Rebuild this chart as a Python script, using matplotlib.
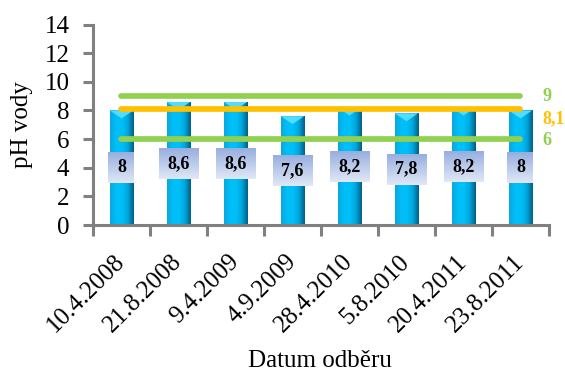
import numpy as np
import matplotlib.pyplot as plt
from matplotlib.colors import LinearSegmentedColormap
from matplotlib.patches import Polygon

plt.rcParams['font.family'] = ['Liberation Serif', 'DejaVu Serif']

# odběry a naměřené pH
datumy = ['10.4.2008', '21.8.2008', '9.4.2009', '4.9.2009',
          '28.4.2010', '5.8.2010', '20.4.2011', '23.8.2011']
ph = [8.0, 8.6, 8.6, 7.6, 8.2, 7.8, 8.2, 8.0]
ph_popisky = ['8', '8,6', '8,6', '7,6', '8,2', '7,8', '8,2', '8']

# limitní hodnoty
limity = [9.0, 8.1, 6.0]
limity_popisky = ['9', '8,1', '6']
limity_barvy = ['#92D050', '#FFC000', '#92D050']

fig = plt.figure(figsize=(5.65, 3.72), dpi=100)
ax = fig.add_axes([0.1646, 0.395, 0.807, 0.539])
ax.set_xlim(-0.5, len(datumy) - 0.5)
ax.set_ylim(0, 14)

x = np.arange(len(datumy))
sirka = 0.41

# válcové sloupce - vodorovný přechod barvy oříznutý tvarem sloupce
valec = LinearSegmentedColormap.from_list(
    'valec', ['#0AA8DE', '#00BEF7', '#00C0F9', '#00A6DC', '#005F86'])
prechod = np.linspace(0, 1, 64).reshape(1, -1)
sloupce = ax.bar(x, ph, width=sirka, color='none', edgecolor='none', zorder=2)
for r, xi, v in zip(sloupce, x, ph):
    im = ax.imshow(prechod, cmap=valec, aspect='auto', zorder=2,
                   extent=(xi - sirka / 2, xi + sirka / 2, 0, v))
    im.set_clip_path(r)
    # světlý trojúhelník na vršku válce
    ax.add_patch(Polygon([(xi - sirka / 2, v), (xi + sirka / 2, v), (xi, v - 0.55)],
                         closed=True, facecolor='#52DDFF', edgecolor='none', zorder=2.5))

# vodorovné limity přes celý rozsah odběrů
popisky_y = [9.0, 7.4, 5.93]
for hodnota, t, c, py in zip(limity, limity_popisky, limity_barvy, popisky_y):
    ax.plot([x[0], x[-1]], [hodnota, hodnota], color=c, linewidth=4.1,
            solid_capstyle='round', zorder=3)
    ax.text(x[-1] + 0.38, py, t, color=c, fontsize=13, fontweight='bold',
            ha='left', va='center', clip_on=False)

# popisky hodnot uprostřed sloupců
texty = []
for xi, v, t in zip(x, ph, ph_popisky):
    texty.append(ax.text(xi, v / 2, t, ha='center', va='center', fontsize=13,
                         fontweight='bold', zorder=5))

ax.set_yticks(np.arange(0, 15, 2))
ax.set_xticks(x)
ax.set_xticklabels(datumy, rotation=45, ha='right', va='center',
                   rotation_mode='anchor', fontsize=18)
ax.tick_params(axis='x', length=0, pad=24)
ax.set_xticks(np.arange(-0.5, len(datumy)), minor=True)
ax.tick_params(axis='x', which='minor', length=8, width=2.2, color='#808080')
ax.tick_params(axis='y', labelsize=18, length=7, width=2.2, color='#808080', pad=10)

for s in ['top', 'right']:
    ax.spines[s].set_visible(False)
for s in ['left', 'bottom']:
    ax.spines[s].set_color('#808080')
    ax.spines[s].set_linewidth(2.2)
    ax.spines[s].set_zorder(6)

ax.set_ylabel('pH vody', fontsize=18, labelpad=8)
fig.text(0.567, 0.03, 'Datum odběru', ha='center', va='center', fontsize=18)

# rámečky popisků se svislým přechodem, šířka podle textu, pevná výška
fig.canvas.draw()
ramecek = LinearSegmentedColormap.from_list('ramecek', ['#97AEDF', '#E0E8F6'])
svisle = np.linspace(0, 1, 64).reshape(-1, 1)
inv = ax.transData.inverted()
for t in texty:
    bb = t.get_window_extent()
    cx, cy = ax.transData.transform(t.get_position())
    pulw = bb.width / 2 + 8.5
    pulh = 15.5
    (x0, y0), (x1, y1) = inv.transform([(cx - pulw, cy - pulh), (cx + pulw, cy + pulh)])
    ax.imshow(svisle, cmap=ramecek, aspect='auto', zorder=4,
              extent=(x0, x1, y0, y1), origin='upper')

ax.set_xlim(-0.5, len(datumy) - 0.5)
ax.set_ylim(0, 14)
fig.savefig('out.png', dpi=100)
